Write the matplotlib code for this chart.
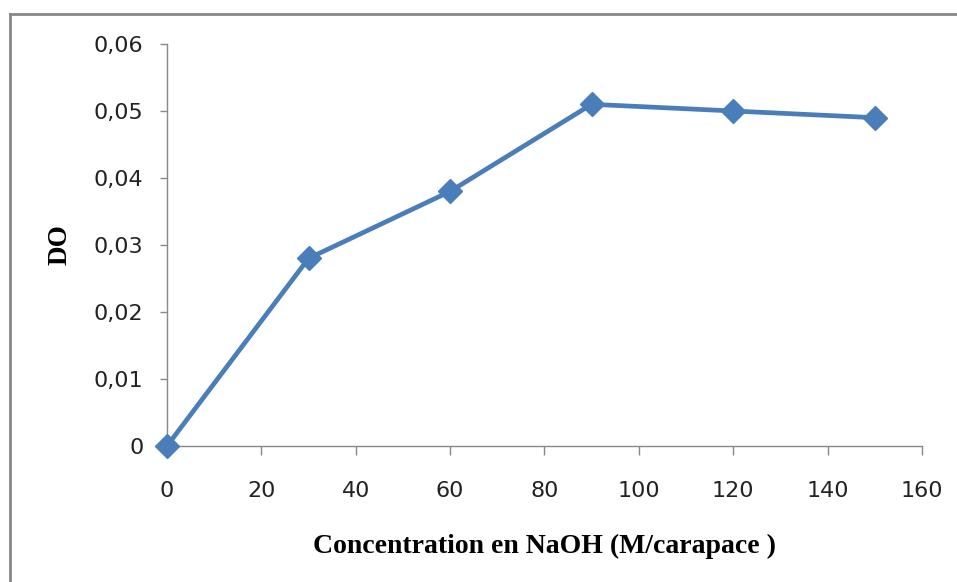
import matplotlib
matplotlib.use("Agg")
import matplotlib.pyplot as plt
from matplotlib.lines import Line2D
from matplotlib.ticker import FuncFormatter

# NaOH concentration vs optical density
conc = [0, 30, 60, 90, 120, 150]
do_values = [0, 0.028, 0.038, 0.051, 0.050, 0.049]
x_ticks = [0, 20, 40, 60, 80, 100, 120, 140, 160]
y_ticks = [0, 0.01, 0.02, 0.03, 0.04, 0.05, 0.06]

fig = plt.figure(figsize=(9.57, 5.82), dpi=100)
ax = fig.add_axes([0.1745, 0.2337, 0.7889, 0.6907])

ax.plot(conc, do_values, color='#4a7ebb', lw=3.4, marker='D', ms=12,
        markeredgecolor='#4a7ebb', clip_on=False, zorder=3)

ax.set_xlim(0, 160)
ax.set_ylim(0, 0.06)
ax.set_xticks(x_ticks)
ax.set_yticks(y_ticks)
ax.yaxis.set_major_formatter(FuncFormatter(lambda v, p: '0' if v == 0 else f'{v:.2f}'.replace('.', ',')))

for s in ['top', 'right']:
    ax.spines[s].set_visible(False)
for s in ['left', 'bottom']:
    ax.spines[s].set_color('#888888')
    ax.spines[s].set_linewidth(1.0)

ax.tick_params(axis='x', colors='#888888', labelcolor='#222222', length=6.5,
               width=1.0, pad=18.5, labelsize=16)
ax.tick_params(axis='y', colors='#888888', labelcolor='#222222', length=5,
               width=1.0, pad=12, labelsize=16)

ax.set_xlabel('Concentration en NaOH (M/carapace )', family='Liberation Serif',
              fontweight='bold', fontsize=20, labelpad=24)
ax.set_ylabel('DO', family='Liberation Serif', fontweight='bold',
              fontsize=19.5, labelpad=15)

# outer chart frame
fig.add_artist(Line2D([0.0105, 0.0105], [0, 0.976], color='#888888', lw=2))
fig.add_artist(Line2D([0.0105, 1], [0.976, 0.976], color='#888888', lw=2))

fig.savefig('out.png', dpi=100)
